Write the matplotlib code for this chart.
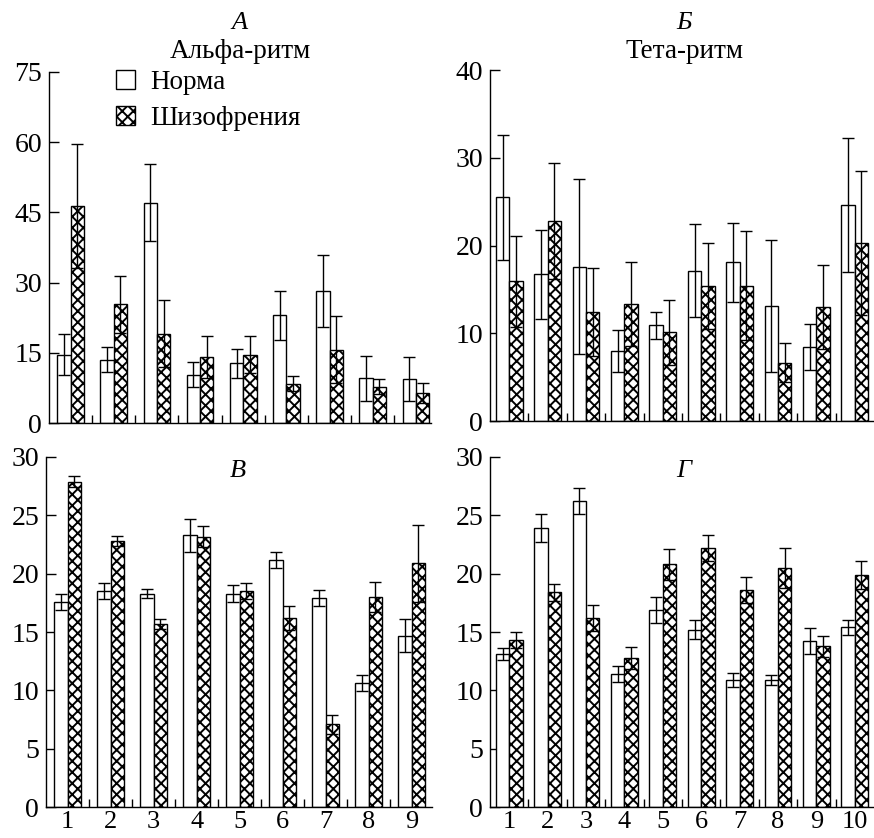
import numpy as np
import matplotlib
matplotlib.use("Agg")
import matplotlib.pyplot as plt
from matplotlib.patches import Patch

plt.rcParams['font.family'] = ['Liberation Serif', 'DejaVu Serif']
plt.rcParams['hatch.linewidth'] = 1.4
plt.rcParams['axes.linewidth'] = 1.0

# A - alpha rhythm
alpha_norm = [14.6, 13.5, 47.1, 10.3, 12.8, 23.0, 28.3, 9.6, 9.4]
alpha_norm_err = [4.4, 2.7, 8.3, 2.7, 3.1, 5.2, 7.7, 4.8, 4.6]
alpha_schiz = [46.4, 25.4, 19.1, 14.1, 14.6, 8.4, 15.7, 7.7, 6.4]
alpha_schiz_err = [13.3, 6.1, 7.2, 4.4, 3.9, 1.6, 7.2, 1.6, 2.2]

# Б - theta rhythm
theta_norm = [25.5, 16.7, 17.6, 8.0, 10.9, 17.1, 18.1, 13.1, 8.4, 24.6]
theta_norm_err = [7.1, 5.1, 10.0, 2.4, 1.5, 5.3, 4.5, 7.5, 2.6, 7.6]
theta_schiz = [15.9, 22.8, 12.4, 13.3, 10.1, 15.4, 15.4, 6.65, 13.0, 20.3]
theta_schiz_err = [5.2, 6.6, 5.0, 4.8, 3.7, 4.9, 6.2, 2.2, 4.8, 8.2]

# В
v_norm = [17.6, 18.5, 18.3, 23.3, 18.3, 21.2, 17.9, 10.65, 14.7]
v_norm_err = [0.7, 0.7, 0.35, 1.4, 0.7, 0.7, 0.7, 0.7, 1.4]
v_schiz = [27.9, 22.8, 15.7, 23.15, 18.5, 16.2, 7.1, 18.0, 20.9]
v_schiz_err = [0.5, 0.4, 0.45, 0.9, 0.7, 1.0, 0.8, 1.3, 3.3]

# Г
g_norm = [13.1, 23.9, 26.2, 11.4, 16.9, 15.2, 10.9, 10.9, 14.25, 15.4]
g_norm_err = [0.5, 1.2, 1.1, 0.65, 1.1, 0.8, 0.6, 0.45, 1.1, 0.65]
g_schiz = [14.3, 18.4, 16.2, 12.8, 20.8, 22.2, 18.6, 20.5, 13.8, 19.9]
g_schiz_err = [0.7, 0.75, 1.15, 0.95, 1.35, 1.15, 1.1, 1.7, 0.9, 1.2]

W, H = 874, 838
fig = plt.figure(figsize=(W / 100, H / 100), dpi=100)


def panel(rect, norm, norm_err, schiz, schiz_err, ymax, yticks, xright, width, xlabels):
    ax = fig.add_axes(rect)
    n = len(norm)
    x = np.arange(1, n + 1)
    ax.bar(x - width / 2, norm, width, color='white', edgecolor='black', linewidth=1.0, zorder=2)
    ax.bar(x + width / 2, schiz, width, color='white', edgecolor='black', linewidth=1.0,
           hatch='xxx', zorder=2)
    ax.errorbar(x - width / 2, norm, yerr=norm_err, fmt='none', ecolor='black',
                elinewidth=1.0, capsize=4.5, capthick=1.0, zorder=3)
    ax.errorbar(x + width / 2, schiz, yerr=schiz_err, fmt='none', ecolor='black',
                elinewidth=1.0, capsize=4.5, capthick=1.0, zorder=3)
    ax.set_xlim(0.5, xright)
    ax.set_ylim(0, ymax)
    ax.set_yticks(yticks)
    ax.spines['top'].set_visible(False)
    ax.spines['right'].set_visible(False)
    ax.tick_params(axis='y', direction='in', length=7, width=1.0, labelsize=20, pad=5)
    ax.set_xticks(x)
    ax.set_xticks(np.arange(1.5, n), minor=True)
    ax.tick_params(axis='x', which='minor', direction='in', length=6, width=1.0)
    ax.tick_params(axis='x', which='major', length=0, labelsize=19, pad=3)
    if xlabels:
        ax.set_xticklabels([str(i) for i in x])
    else:
        ax.set_xticklabels([])
    return ax


axA = panel([49 / W, 1 - 423 / H, 382 / W, 351 / H], alpha_norm, alpha_norm_err,
            alpha_schiz, alpha_schiz_err, 75, [0, 15, 30, 45, 60, 75], 9.35, 0.31, False)
axB = panel([490 / W, 1 - 421 / H, 384 / W, 351 / H], theta_norm, theta_norm_err,
            theta_schiz, theta_schiz_err, 40, [0, 10, 20, 30, 40], 10.5, 0.347, False)
axV = panel([46 / W, 1 - 807 / H, 386 / W, 350 / H], v_norm, v_norm_err,
            v_schiz, v_schiz_err, 30, [0, 5, 10, 15, 20, 25, 30], 9.47, 0.31, True)
axG = panel([490 / W, 1 - 807 / H, 384 / W, 350 / H], g_norm, g_norm_err,
            g_schiz, g_schiz_err, 30, [0, 5, 10, 15, 20, 25, 30], 10.5, 0.347, True)

fig.text(240 / W, 1 - 23 / H, 'А', ha='center', va='center', fontsize=19, style='italic')
fig.text(240 / W, 1 - 51 / H, 'Альфа-ритм', ha='center', va='center', fontsize=19.5)
fig.text(684 / W, 1 - 23 / H, 'Б', ha='center', va='center', fontsize=19, style='italic')
fig.text(684 / W, 1 - 51 / H, 'Тета-ритм', ha='center', va='center', fontsize=19.5)
fig.text(238 / W, 1 - 471 / H, 'В', ha='center', va='center', fontsize=19, style='italic')
fig.text(684 / W, 1 - 471 / H, 'Г', ha='center', va='center', fontsize=19, style='italic')

handles = [Patch(facecolor='white', edgecolor='black', linewidth=1.0, label='Норма'),
           Patch(facecolor='white', edgecolor='black', linewidth=1.0, hatch='xxx',
                 label='Шизофрения')]
fig.legend(handles=handles, loc='upper left', bbox_to_anchor=(116 / W, 1 - 70 / H),
           frameon=False, fontsize=19.5, handlelength=0.7, handleheight=0.7,
           handletextpad=0.55, labelspacing=0.4, borderpad=0, borderaxespad=0)

fig.savefig('out.png', dpi=100)
